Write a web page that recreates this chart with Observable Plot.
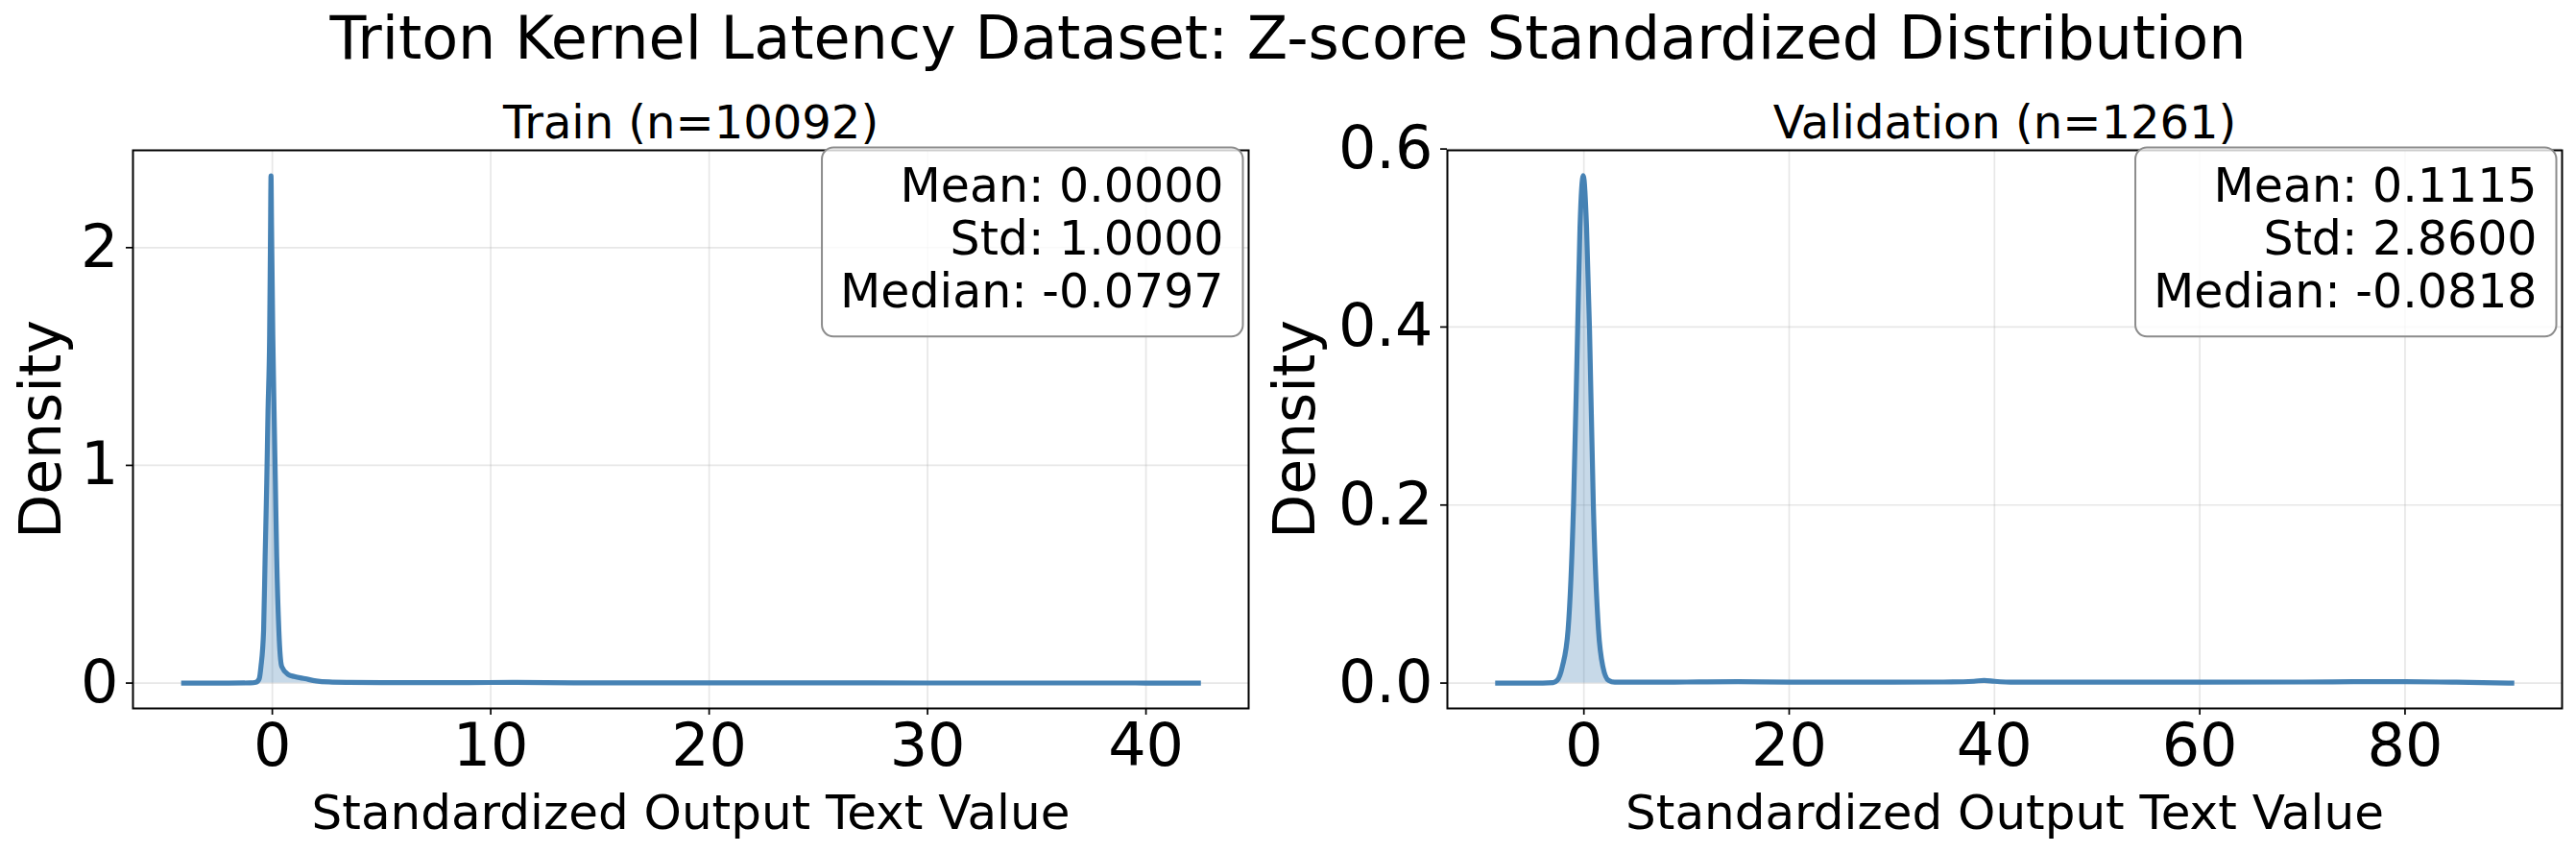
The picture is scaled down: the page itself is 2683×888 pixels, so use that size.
<!DOCTYPE html>
<html>
<head>
<meta charset="utf-8">
<script src="https://cdn.jsdelivr.net/npm/d3@7"></script>
<script src="https://cdn.jsdelivr.net/npm/@observablehq/plot@0.6"></script>
<style>
html, body { margin: 0; padding: 0; background: #fff; }
#wrap { position: relative; width: 2683px; height: 888px; overflow: hidden; font-family: "DejaVu Sans", sans-serif; background: #fff; }
#suptitle { position: absolute; left: 0; top: 9px; width: 2683px; text-align: center; font-size: 62px; line-height: 62px; color: #000; white-space: nowrap; }
#p1 { position: absolute; left: 0; top: 0; }
#p2 { position: absolute; left: 1340px; top: 0; }
</style>
</head>
<body>
<div id="wrap"><div id="p1"></div><div id="p2"></div><div id="suptitle"></div></div>
<script>
// ---------- data ----------
const suptitle = "Triton Kernel Latency Dataset: Z-score Standardized Distribution";
const xLabel = "Standardized Output Text Value";
const yLabel = "Density";

const trainTitle = "Train (n=10092)";
const trainStats = ["Mean: 0.0000", "Std: 1.0000", "Median: -0.0797"];
const trainX = [-4.06, -2.0, -1.0, -0.75, -0.60, -0.52, -0.40, -0.33, -0.256, -0.198, -0.124, -0.085, -0.06, -0.035, 0.022, 0.08, 0.14, 0.20, 0.30, 0.43, 0.72, 1.0, 1.5, 2.0, 2.6, 3.5, 5, 8, 11, 14, 20, 25, 30, 35, 40, 42.4];
const trainY = [0, 0, 0.001, 0.004, 0.02, 0.076, 0.24, 0.58, 0.92, 1.25, 1.6, 2.05, 2.33, 2.1, 1.6, 1.25, 0.92, 0.58, 0.24, 0.076, 0.04, 0.03, 0.02, 0.01, 0.005, 0.003, 0.002, 0.002, 0.003, 0.001, 0.001, 0.001, 0.0005, 0.0005, 0.0003, 0.0002];
const trainXTicks = [0, 10, 20, 30, 40];
const trainYTicks = [0, 1, 2];
const trainXDomain = [-6.38, 44.7];
const trainYDomain = [-0.1165, 2.447];

const valTitle = "Validation (n=1261)";
const valStats = ["Mean: 0.1115", "Std: 2.8600", "Median: -0.0818"];
const valX = [-8.4, -4.0, -3.0, -2.6, -2.1, -1.54, -1.01, -0.61, -0.38, -0.06, 0.26, 0.55, 0.92, 1.42, 1.85, 2.4, 3.0, 4.0, 6, 10, 15, 20, 25, 30, 35, 38, 39, 40, 42, 50, 60, 70, 75, 80, 85, 90.4];
const valY = [0, 0, 0.0005, 0.003, 0.0185, 0.06, 0.2, 0.397, 0.512, 0.57, 0.512, 0.397, 0.2, 0.06, 0.0185, 0.003, 0.001, 0.001, 0.001, 0.0012, 0.0015, 0.001, 0.001, 0.001, 0.0012, 0.002, 0.003, 0.002, 0.001, 0.001, 0.001, 0.0012, 0.0015, 0.0015, 0.001, 0];
const valXTicks = [0, 20, 40, 60, 80];
const valYTicks = [0, 0.2, 0.4, 0.6];
const valXDomain = [-13.3, 95.3];
const valYDomain = [-0.0285, 0.5985];

// ---------- drawing ----------
const BLUE = "#4682b4";
const FONT = '"DejaVu Sans", sans-serif';

function makePanel(cfg) {
  const pts = cfg.xs.map((x, i) => ({x, y: cfg.ys[i]}));
  const gridStyle = {stroke: "#b0b0b0", strokeOpacity: 0.3, strokeWidth: 1.7};
  return Plot.plot({
    width: cfg.width,
    height: 888,
    marginLeft: cfg.ml,
    marginRight: cfg.mr,
    marginTop: 156,
    marginBottom: 151,
    style: {fontFamily: FONT, fontSize: "62px", color: "#000", background: "#fff", overflow: "visible"},
    x: {domain: cfg.xDomain, label: null},
    y: {domain: cfg.yDomain, label: null},
    marks: [
      Plot.gridX(cfg.xTicks, gridStyle),
      Plot.gridY(cfg.yTicks, gridStyle),
      Plot.areaY(pts, {x: "x", y: "y", fill: BLUE, fillOpacity: 0.3, curve: "monotone-x"}),
      Plot.line(pts, {x: "x", y: "y", stroke: BLUE, strokeWidth: 5.2, curve: "monotone-x", strokeLinecap: "square"}),
      Plot.frame({stroke: "#000", strokeWidth: 2}),
      Plot.axisX(cfg.xTicks, {tickSize: 7, tickPadding: 8, strokeWidth: 1.7, fontSize: 62, label: null, tickFormat: d => String(d)}),
      Plot.axisY(cfg.yTicks, {tickSize: 7, tickPadding: 8, strokeWidth: 1.7, fontSize: 62, label: null, tickFormat: cfg.yFmt}),
      Plot.text([cfg.title], {frameAnchor: "top", dy: -12.5, lineAnchor: "bottom", textAnchor: "middle", fontSize: 48, text: d => d}),
      Plot.text([xLabel], {frameAnchor: "bottom", dy: 125, lineAnchor: "bottom", textAnchor: "middle", fontSize: 50, text: d => d}),
      Plot.text([yLabel], {frameAnchor: "left", rotate: -90, dx: cfg.ylDx, lineAnchor: "bottom", textAnchor: "middle", fontSize: 60, text: d => d}),
      Plot.text([cfg.stats.join("\n")], {frameAnchor: "top-right", dx: -26, dy: 15, lineAnchor: "top", textAnchor: "end", fontSize: 49, lineHeight: 1.12, text: d => d})
    ]
  });
}

function addBox(svg) {
  const t = [...svg.querySelectorAll("text")].find(e => e.textContent.startsWith("Mean"));
  if (!t) return;
  const bb = t.getBBox();
  const r = document.createElementNS("http://www.w3.org/2000/svg", "rect");
  r.setAttribute("x", bb.x - 19);
  r.setAttribute("y", bb.y - 12);
  r.setAttribute("width", bb.width + 39);
  r.setAttribute("height", bb.height + 30);
  r.setAttribute("rx", 12);
  r.setAttribute("ry", 12);
  r.setAttribute("fill", "#fff");
  r.setAttribute("fill-opacity", 0.8);
  r.setAttribute("stroke", "#8c8c8c");
  r.setAttribute("stroke-width", 2);
  const tr = t.getAttribute("transform");
  if (tr) r.setAttribute("transform", tr);
  t.parentNode.insertBefore(r, t);
}

document.getElementById("suptitle").textContent = suptitle;

const p1 = makePanel({
  xs: trainX, ys: trainY, xTicks: trainXTicks, yTicks: trainYTicks,
  xDomain: trainXDomain, yDomain: trainYDomain, yFmt: d => String(d),
  title: trainTitle, stats: trainStats, width: 1340, ml: 138, mr: 40, ylDx: -76
});
document.getElementById("p1").appendChild(p1);
addBox(p1);

const p2 = makePanel({
  xs: valX, ys: valY, xTicks: valXTicks, yTicks: valYTicks,
  xDomain: valXDomain, yDomain: valYDomain, yFmt: d3.format(".1f"),
  title: valTitle, stats: valStats, width: 1343, ml: 167, mr: 15, ylDx: -139
});
document.getElementById("p2").appendChild(p2);
addBox(p2);
</script>
</body>
</html>
